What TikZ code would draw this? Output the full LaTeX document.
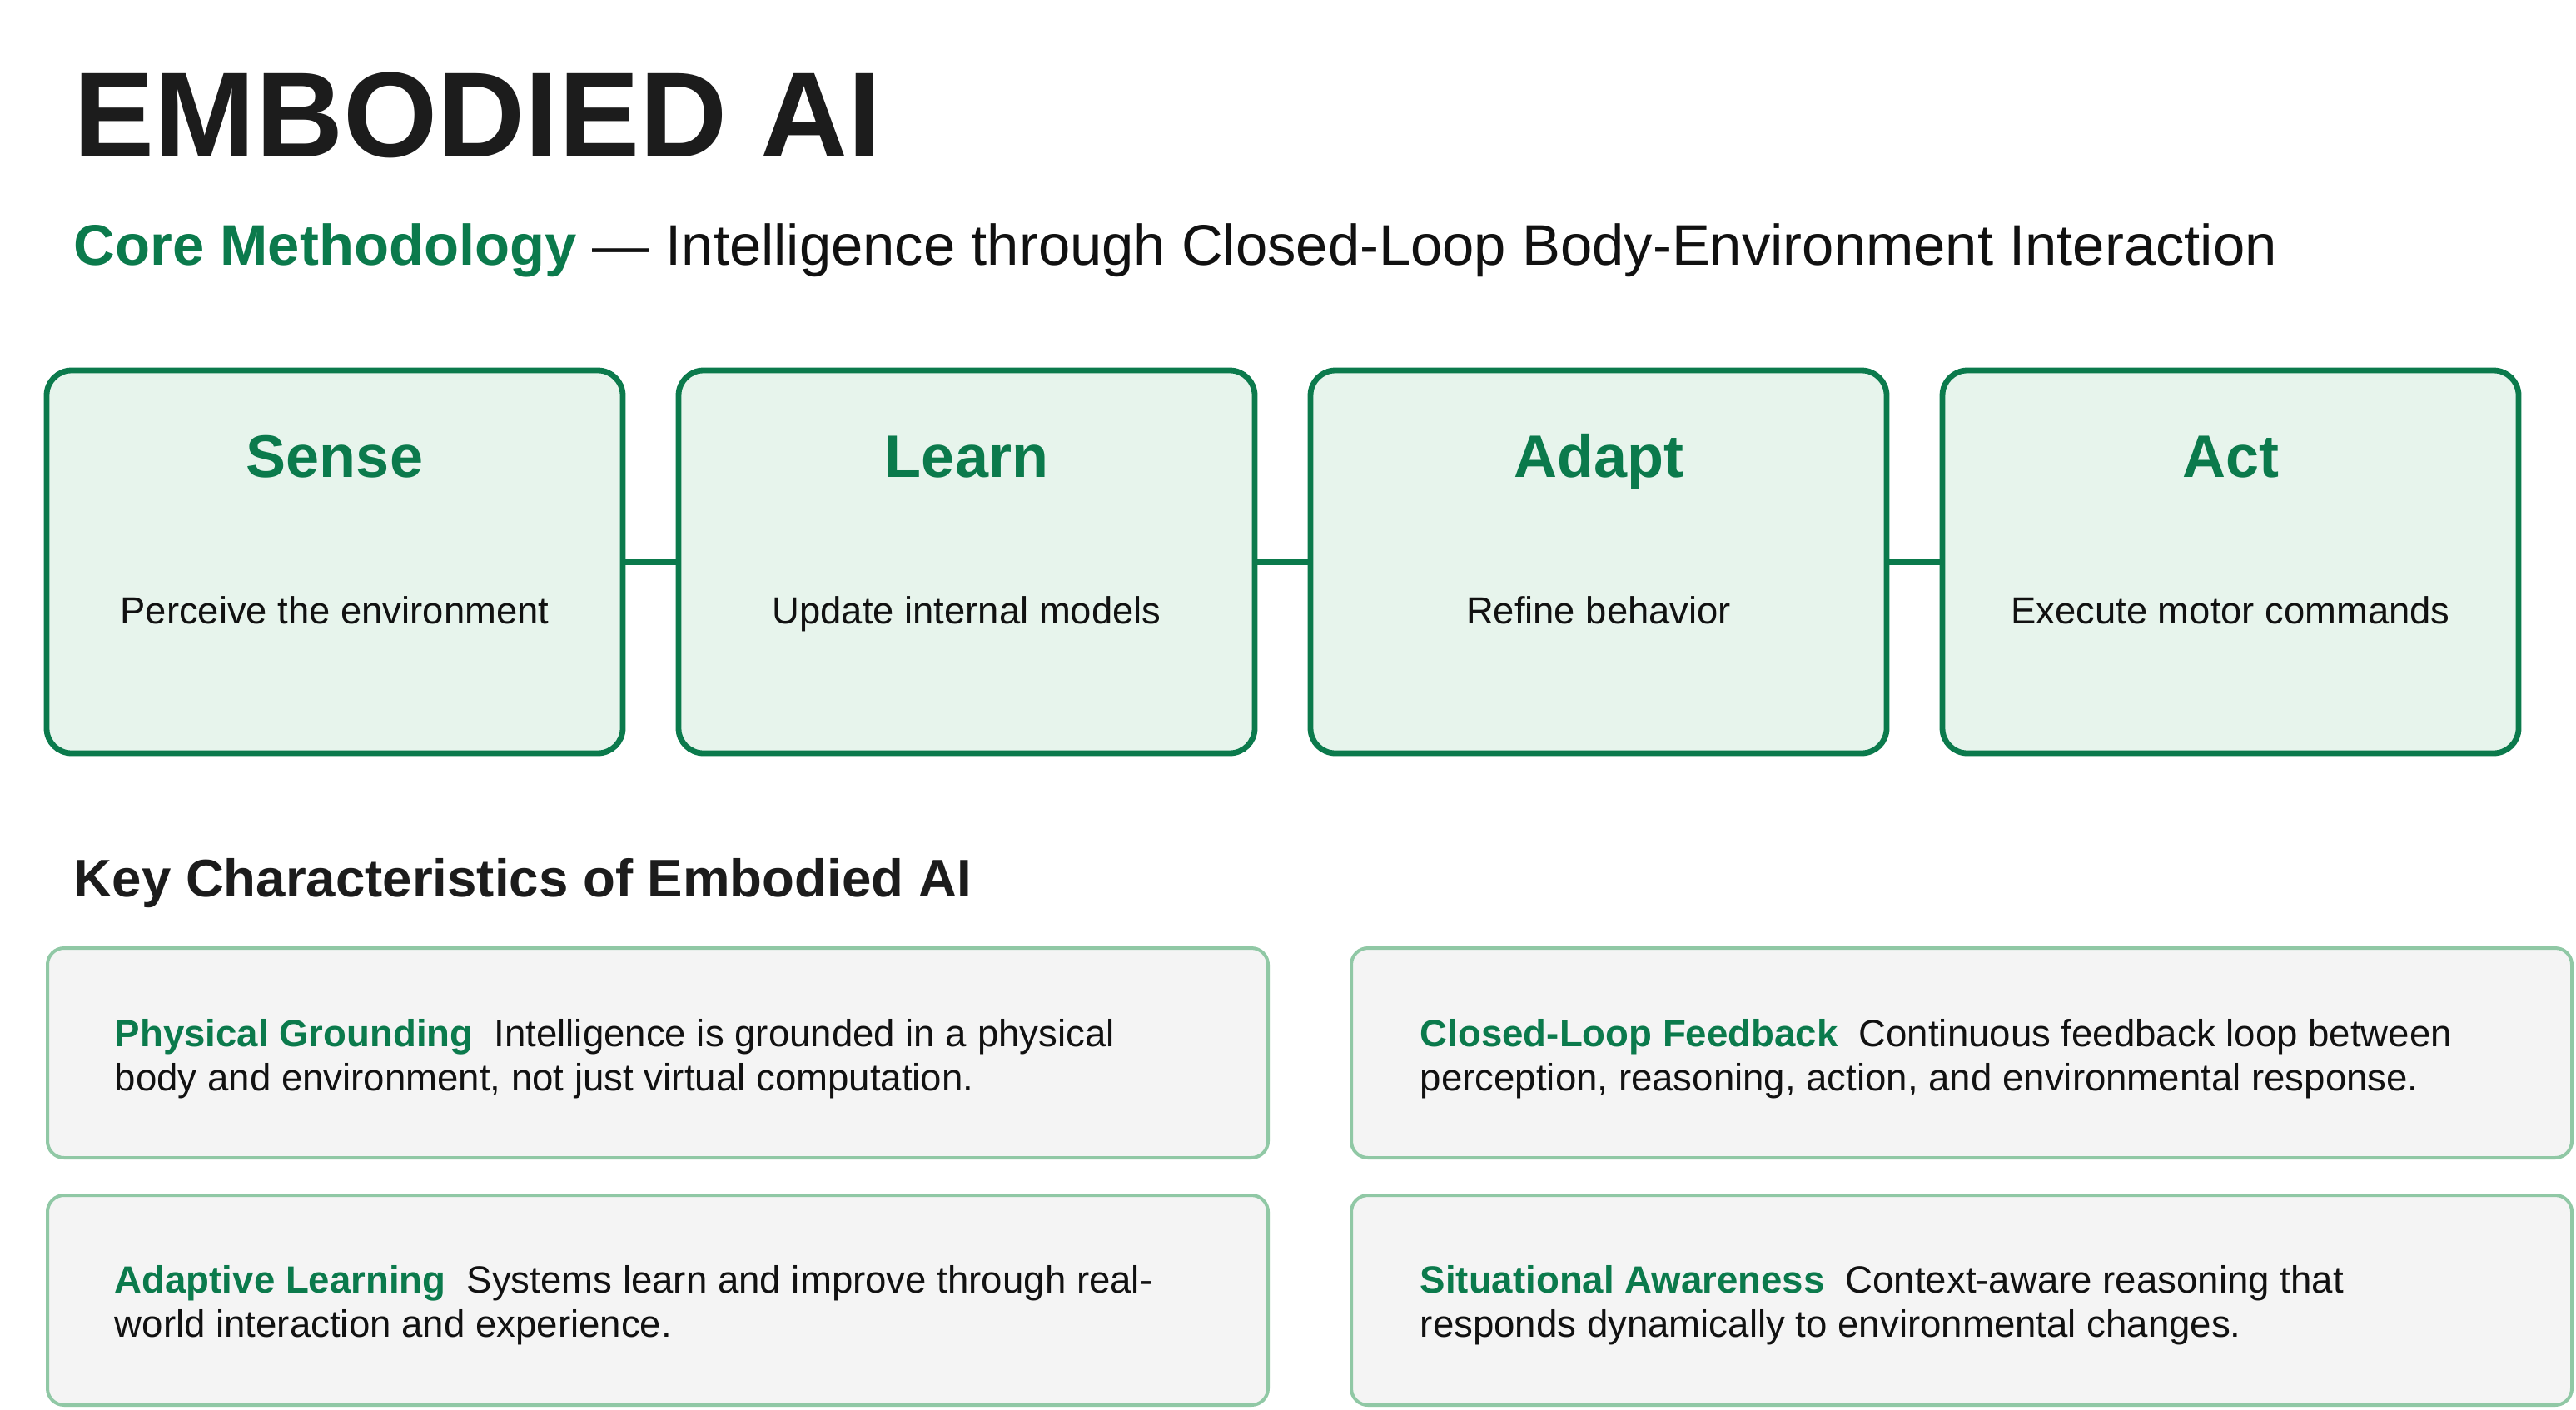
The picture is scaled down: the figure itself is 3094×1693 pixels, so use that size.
\documentclass[tikz,border=0pt]{standalone}
\usepackage{fontspec}
\setmainfont{Liberation Sans}
\definecolor{dgreen}{HTML}{0B7A4C}
\definecolor{lgreenfill}{HTML}{E7F4EC}
\definecolor{cardborder}{HTML}{90C8A5}
\definecolor{cardfill}{HTML}{F4F4F4}
\definecolor{inkdark}{HTML}{1C1C1C}
\definecolor{inktext}{HTML}{111111}
\begin{document}
\begin{tikzpicture}[x=0.25pt,y=-0.25pt,
  stepbox/.style={draw=dgreen, fill=lgreenfill, line width=1.7pt, rounded corners=7.5pt,
    minimum width=173pt, minimum height=115pt, inner sep=0pt},
  stephead/.style={anchor=base, inner sep=0pt, text=dgreen, font=\fontsize{18}{21}\selectfont\bfseries},
  stepdesc/.style={anchor=base, inner sep=0pt, text=inktext, font=\fontsize{11.35}{13.5}\selectfont},
  link/.style={draw=dgreen, line width=1.8pt},
  card/.style={draw=cardborder, fill=cardfill, line width=1pt, rounded corners=5pt,
    minimum width=366.5pt, minimum height=63pt, inner sep=0pt},
  cardtext/.style={anchor=base west, inner sep=0pt, text=inktext, font=\fontsize{11.4}{13.25}\selectfont},
]
\useasboundingbox (0,0) rectangle (3094,1693);
\fill[white] (0,0) rectangle (3094,1693);

% Title
\node[anchor=base west, inner sep=0pt, text=inkdark, font=\fontsize{36.4}{40}\selectfont\bfseries] (title) at (88,188) {EMBODIED AI};
\node[anchor=base west, inner sep=0pt, text=inktext, font=\fontsize{17.2}{20}\selectfont] (subtitle) at (88,318)
  {\textcolor{dgreen}{\textbf{Core Methodology}} — Intelligence through Closed-Loop Body-Environment Interaction};

% Steps
\node[stepbox] (sense) at (402,675) {};
\node[stepbox] (learn) at (1161,675) {};
\node[stepbox] (adapt) at (1920,675) {};
\node[stepbox] (act)   at (2679,675) {};

\draw[link] (sense.east) -- (learn.west);
\draw[link] (learn.east) -- (adapt.west);
\draw[link] (adapt.east) -- (act.west);

\node[stephead] (senseh) at (402,573) {Sense};
\node[stephead] (learnh) at (1161,573) {Learn};
\node[stephead] (adapth) at (1920,573) {Adapt};
\node[stephead] (acth)   at (2679,573) {Act};

\node[stepdesc] (sensed) at (402,749) {Perceive the environment};
\node[stepdesc] (learnd) at (1161,749) {Update internal models};
\node[stepdesc] (adaptd) at (1920,749) {Refine behavior};
\node[stepdesc] (actd)   at (2679,749) {Execute motor commands};

% Key characteristics
\node[anchor=base west, inner sep=0pt, text=inkdark, font=\fontsize{15.9}{19}\selectfont\bfseries] (keyhead) at (88,1077) {Key Characteristics of Embodied AI};

\node[card] (c1) at (790,1265) {};
\node[card] (c2) at (2356,1265) {};
\node[card] (c3) at (790,1562) {};
\node[card] (c4) at (2356,1562) {};

\node[cardtext] (c1t) at (137,1257) {\begin{tabular}[t]{@{}l@{}}\textcolor{dgreen}{\textbf{Physical Grounding}}\hspace{0.55em}Intelligence is grounded in a physical\\ body and environment, not just virtual computation.\end{tabular}};
\node[cardtext] (c2t) at (1705,1257) {\begin{tabular}[t]{@{}l@{}}\textcolor{dgreen}{\textbf{Closed-Loop Feedback}}\hspace{0.55em}Continuous feedback loop between\\ perception, reasoning, action, and environmental response.\end{tabular}};
\node[cardtext] (c3t) at (137,1553) {\begin{tabular}[t]{@{}l@{}}\textcolor{dgreen}{\textbf{Adaptive Learning}}\hspace{0.55em}Systems learn and improve through real-\\ world interaction and experience.\end{tabular}};
\node[cardtext] (c4t) at (1705,1553) {\begin{tabular}[t]{@{}l@{}}\textcolor{dgreen}{\textbf{Situational Awareness}}\hspace{0.55em}Context-aware reasoning that\\ responds dynamically to environmental changes.\end{tabular}};
\end{tikzpicture}
\end{document}
